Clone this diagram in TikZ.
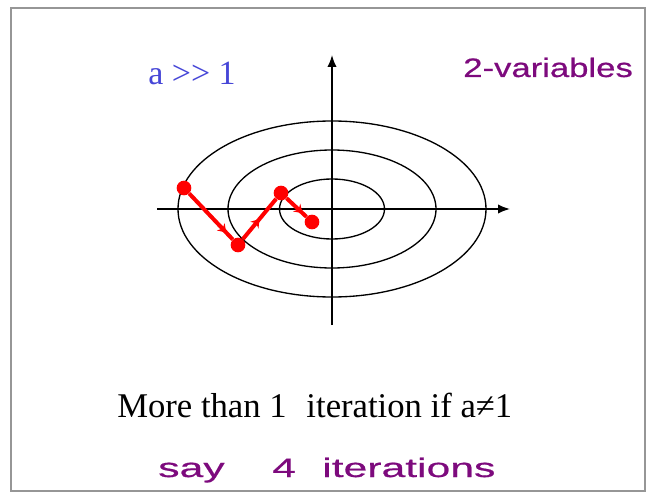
\documentclass[tikz,border=0pt]{standalone}
\usepackage{fontspec}
\setmainfont{Liberation Serif}
\newfontfamily\handfont[FakeStretch=1.3,FakeBold=0.6]{Liberation Sans}
\newfontfamily\handwide[FakeStretch=1.6,FakeBold=0.6]{Liberation Sans}
\usetikzlibrary{arrows.meta,decorations.markings}
\definecolor{ablue}{RGB}{70,70,215}
\definecolor{inkpurple}{RGB}{125,10,125}
\definecolor{framegray}{RGB}{150,150,150}
\tikzset{
  contour/.style={line width=1pt},
  axis/.style={line width=1.2pt,-{Latex[length=9pt,width=7pt]}},
  stepdot/.style={circle,fill=red,inner sep=0pt,minimum size=11pt},
  steppath/.style={red,line width=3pt,postaction={decorate},
    decoration={markings,mark=at position #1 with {\arrow{Stealth[length=6pt,width=8pt,line width=0pt]}}}},
  ink/.style={inkpurple,inner sep=0pt,anchor=base west},
}
\begin{document}
\begin{tikzpicture}[x=0.75pt,y=-0.75pt]
  \useasboundingbox (0,0) rectangle (648,495);
  \draw[framegray,line width=1.5pt] (11,8) rectangle (645,491);
  \coordinate (ctr) at (332,209);
  \draw[contour] (ctr) ellipse [x radius=52.5, y radius=30];
  \draw[contour] (ctr) ellipse [x radius=104, y radius=59];
  \draw[contour] (ctr) ellipse [x radius=154, y radius=88];
  \coordinate (xstart) at (157,209);
  \coordinate (xend) at (510,209);
  \coordinate (ystart) at (332,325);
  \coordinate (yend) at (332,55);
  \draw[axis] (xstart) -- (xend);
  \draw[axis] (ystart) -- (yend);
  \node[stepdot] (d1) at (184,188) {};
  \node[stepdot] (d2) at (238,245) {};
  \node[stepdot] (d3) at (281,193) {};
  \node[stepdot] (d4) at (312,222) {};
  \draw[steppath=0.85] (d1) -- (d2);
  \draw[steppath=0.5] (d2) -- (d3);
  \draw[steppath=0.8] (d3) -- (d4);
  \node[ablue,anchor=base west,inner sep=0pt,font=\fontsize{25.5}{30}\selectfont] (ratio) at (148,85) {a >\kern0pt> 1};
  \node[anchor=base west,inner sep=0pt,font=\fontsize{26}{30}\selectfont] (caption) at (117,417) {More than 1\hspace{0.57em}iteration if a≠1};
  \node[ink,font=\handfont\fontsize{20}{24}\selectfont] (nvars) at (463,77) {2-variables};
  \node[ink,font=\handwide\fontsize{20}{24}\selectfont] (say) at (158,477) {say};
  \node[ink,font=\handwide\fontsize{20}{24}\selectfont] (four) at (272,477) {4};
  \node[ink,font=\handwide\fontsize{20}{24}\selectfont] (iters) at (322,477) {iterations};
\end{tikzpicture}
\end{document}
